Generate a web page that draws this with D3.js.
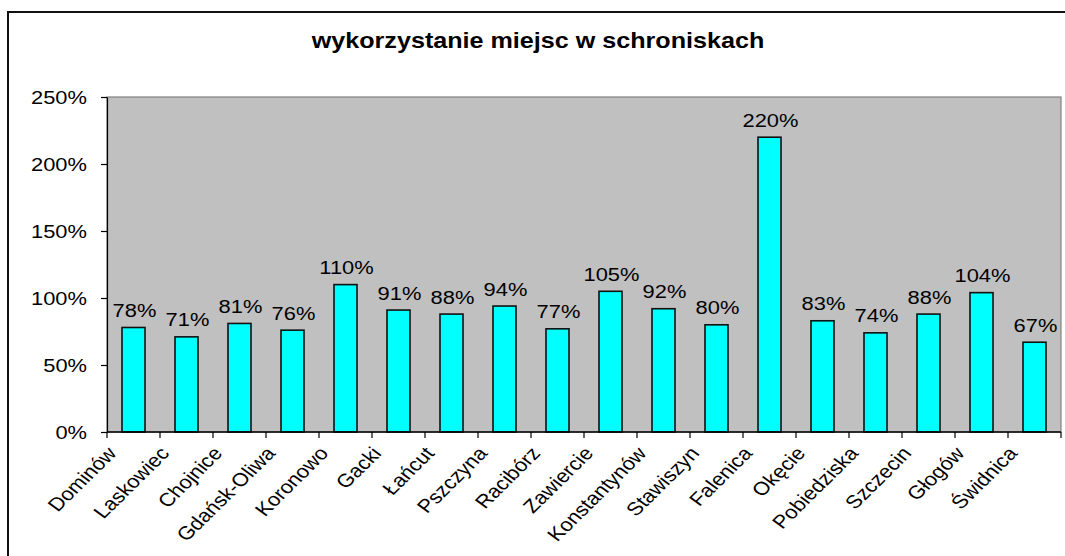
<!DOCTYPE html>
<html>
<head>
<meta charset="utf-8">
<script src="https://cdn.jsdelivr.net/npm/d3@7"></script>
<style>
  body { margin: 0; background: #fff; }
  text { font-family: "Liberation Sans", Arial, sans-serif; fill: #000; }
</style>
</head>
<body>
<div id="chart"></div>
<script>
// dane
var categories = ["Dominów", "Laskowiec", "Chojnice", "Gdańsk-Oliwa", "Koronowo", "Gacki",
    "Łańcut", "Pszczyna", "Racibórz", "Zawiercie", "Konstantynów", "Stawiszyn",
    "Falenica", "Okęcie", "Pobiedziska", "Szczecin", "Głogów", "Świdnica"];
var values = [0.78, 0.71, 0.81, 0.76, 1.10, 0.91, 0.88, 0.94, 0.77, 1.05, 0.92, 0.80,
    2.20, 0.83, 0.74, 0.88, 1.04, 0.67];
var yTicks = [0, 0.5, 1, 1.5, 2, 2.5];
var title = "wykorzystanie miejsc w schroniskach";

var width = 1065, height = 556;
var plotLeft = 107, plotRight = 1061, plotTop = 97, plotBottom = 432;
var sx = 1.17; // tekst jest lekko rozciągnięty w poziomie

var svg = d3.select("#chart").append("svg")
    .attr("width", width)
    .attr("height", height);

// ramka wykresu
svg.append("rect")
    .attr("x", 8).attr("y", 12)
    .attr("width", 1062).attr("height", 560)
    .attr("fill", "#fff")
    .attr("stroke", "#111")
    .attr("stroke-width", 2);

svg.append("text")
    .attr("transform", "translate(538,48) scale(" + sx + ",1)")
    .attr("text-anchor", "middle")
    .style("font-weight", "bold")
    .style("font-size", "21.5px")
    .text(title);

var x = d3.scaleBand()
    .domain(categories)
    .range([plotLeft, plotRight])
    .padding(0);

var y = d3.scaleLinear()
    .domain([0, 2.5])
    .range([plotBottom, plotTop]);

// tło obszaru kreślenia
svg.append("rect")
    .attr("x", plotLeft).attr("y", plotTop)
    .attr("width", plotRight - plotLeft).attr("height", plotBottom - plotTop)
    .attr("fill", "#c0c0c0")
    .attr("stroke", "#808080")
    .attr("stroke-width", 1.2);

// oś Y
var yAxis = svg.append("g")
    .attr("transform", "translate(" + plotLeft + ",0)")
    .call(d3.axisLeft(y).tickValues(yTicks).tickFormat(d3.format(".0%")).tickSize(6).tickSizeOuter(0));
yAxis.select(".domain").attr("stroke", "#000").attr("stroke-width", 1.2);
yAxis.selectAll(".tick line").attr("stroke", "#000").attr("stroke-width", 1.2);
yAxis.selectAll(".tick text")
    .attr("x", null).attr("dy", null)
    .attr("transform", "translate(-20,6.7) scale(" + sx + ",1)")
    .style("font-size", "18.7px")
    .style("font-family", "'Liberation Sans', Arial, sans-serif")
    .attr("fill", "#000");

// słupki
var bw = x.bandwidth() * 0.434;
svg.selectAll(".bar")
    .data(values)
    .enter().append("rect")
    .attr("class", "bar")
    .attr("x", (d, i) => x(categories[i]) + (x.bandwidth() - bw) / 2)
    .attr("y", d => y(d))
    .attr("width", bw)
    .attr("height", d => y(0) - y(d))
    .attr("fill", "#00ffff")
    .attr("stroke", "#111")
    .attr("stroke-width", 1.6);

// etykiety wartości
svg.selectAll(".lbl")
    .data(values)
    .enter().append("text")
    .attr("class", "lbl")
    .attr("transform", (d, i) => "translate(" + (x(categories[i]) + x.bandwidth() / 2 + 1) + "," + (y(d) - 10.5) + ") scale(" + sx + ",1)")
    .attr("text-anchor", "middle")
    .style("font-size", "18.7px")
    .text(d => Math.round(d * 100) + "%");

// oś X
svg.append("line")
    .attr("x1", plotLeft).attr("x2", plotRight)
    .attr("y1", plotBottom).attr("y2", plotBottom)
    .attr("stroke", "#000").attr("stroke-width", 1.4);

var tickPos = categories.map(c => x(c)).concat([plotRight]);
svg.selectAll(".xtick")
    .data(tickPos)
    .enter().append("line")
    .attr("class", "xtick")
    .attr("x1", d => d).attr("x2", d => d)
    .attr("y1", plotBottom).attr("y2", plotBottom + 6)
    .attr("stroke", "#000").attr("stroke-width", 1.2);

svg.selectAll(".xlbl")
    .data(categories)
    .enter().append("text")
    .attr("class", "xlbl")
    .attr("transform", d => "translate(" + (x(d) + x.bandwidth() / 2 - 16) + "," + (plotBottom + 22) + ") scale(" + sx + ",1) rotate(-49)")
    .attr("text-anchor", "end")
    .style("font-size", "18.7px")
    .text(d => d);
</script>
</body>
</html>
